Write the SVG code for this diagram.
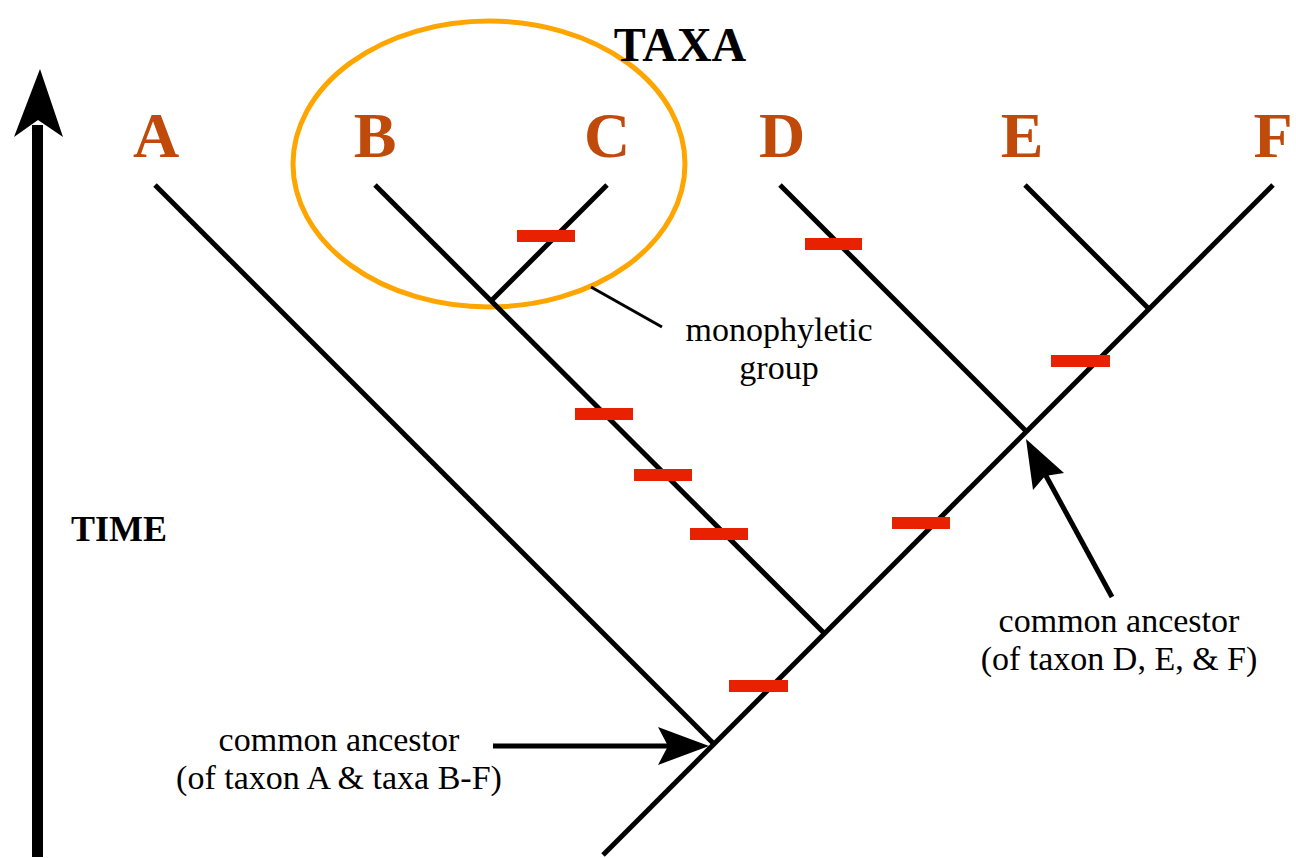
<svg xmlns="http://www.w3.org/2000/svg" width="1296" height="858" viewBox="0 0 1296 858">
<style>
.br{stroke:#000;stroke-width:5;fill:none;stroke-linecap:butt}
.mk{fill:#E82200}
.tx{font-family:"Liberation Serif","Times New Roman",serif;font-weight:bold;fill:#C04A0A;font-size:64px;text-anchor:middle}
.lb{font-family:"Liberation Serif","Times New Roman",serif;font-size:34px;fill:#000;text-anchor:middle}
.hd{font-family:"Liberation Serif","Times New Roman",serif;font-weight:bold;font-size:48px;fill:#000;text-anchor:middle}
</style>
<rect width="1296" height="858" fill="#fff"/>
<g id="monophyletic-ellipse">
<ellipse cx="489" cy="164" rx="196" ry="143" fill="none" stroke="#FFA500" stroke-width="5"/>
</g>
<g id="connectors">
<line class="br" x1="603" y1="855" x2="1273" y2="185"/>
<line class="br" x1="155" y1="185" x2="713" y2="743"/>
<line class="br" x1="375" y1="185" x2="825" y2="634"/>
<line class="br" x1="607" y1="185" x2="492" y2="300"/>
<line class="br" x1="780" y1="185" x2="1027" y2="432"/>
<line class="br" x1="1025" y1="185" x2="1149" y2="309"/>
<line x1="591" y1="287" x2="662" y2="327" stroke="#000" stroke-width="3"/>
<line x1="493" y1="746" x2="668" y2="746" stroke="#000" stroke-width="5"/>
<polygon points="709,746 658,727 668,746 658,765" fill="#000"/>
<line x1="1112" y1="597" x2="1045" y2="474" stroke="#000" stroke-width="5"/>
<polygon points="1026,439 1064,473 1045,476 1033,490" fill="#000"/>
</g>
<g id="time-arrow">
<rect x="32" y="125" width="11" height="732" fill="#000"/>
<polygon points="40,69 63,137 38,120 14,137" fill="#000"/>
</g>
<g id="markers">
<rect class="mk" x="517" y="230" width="58" height="12"/>
<rect class="mk" x="805" y="238" width="57" height="12"/>
<rect class="mk" x="1051" y="355" width="59" height="12"/>
<rect class="mk" x="575" y="408" width="58" height="12"/>
<rect class="mk" x="634" y="469" width="58" height="12"/>
<rect class="mk" x="690" y="528" width="58" height="12"/>
<rect class="mk" x="892" y="517" width="58" height="12"/>
<rect class="mk" x="729" y="680" width="59" height="12"/>
</g>
<g id="taxa-title"><text class="hd" x="680" y="61">TAXA</text></g>
<g id="taxon-A"><text class="tx" x="156" y="157">A</text></g>
<g id="taxon-B"><text class="tx" x="375" y="157">B</text></g>
<g id="taxon-C"><text class="tx" x="607" y="157">C</text></g>
<g id="taxon-D"><text class="tx" x="782" y="157">D</text></g>
<g id="taxon-E"><text class="tx" x="1022" y="157">E</text></g>
<g id="taxon-F"><text class="tx" x="1273" y="157">F</text></g>
<g id="time-label"><text class="hd" x="119" y="541" style="font-size:36px">TIME</text></g>
<g id="mono-label">
<text class="lb" x="779" y="341">monophyletic</text>
<text class="lb" x="779" y="379">group</text>
</g>
<g id="ancestor-DEF-label">
<text class="lb" x="1119" y="632">common ancestor</text>
<text class="lb" x="1119" y="670">(of taxon D, E, &amp; F)</text>
</g>
<g id="ancestor-A-label">
<text class="lb" x="339" y="751">common ancestor</text>
<text class="lb" x="339" y="789">(of taxon A &amp; taxa B-F)</text>
</g>
</svg>
